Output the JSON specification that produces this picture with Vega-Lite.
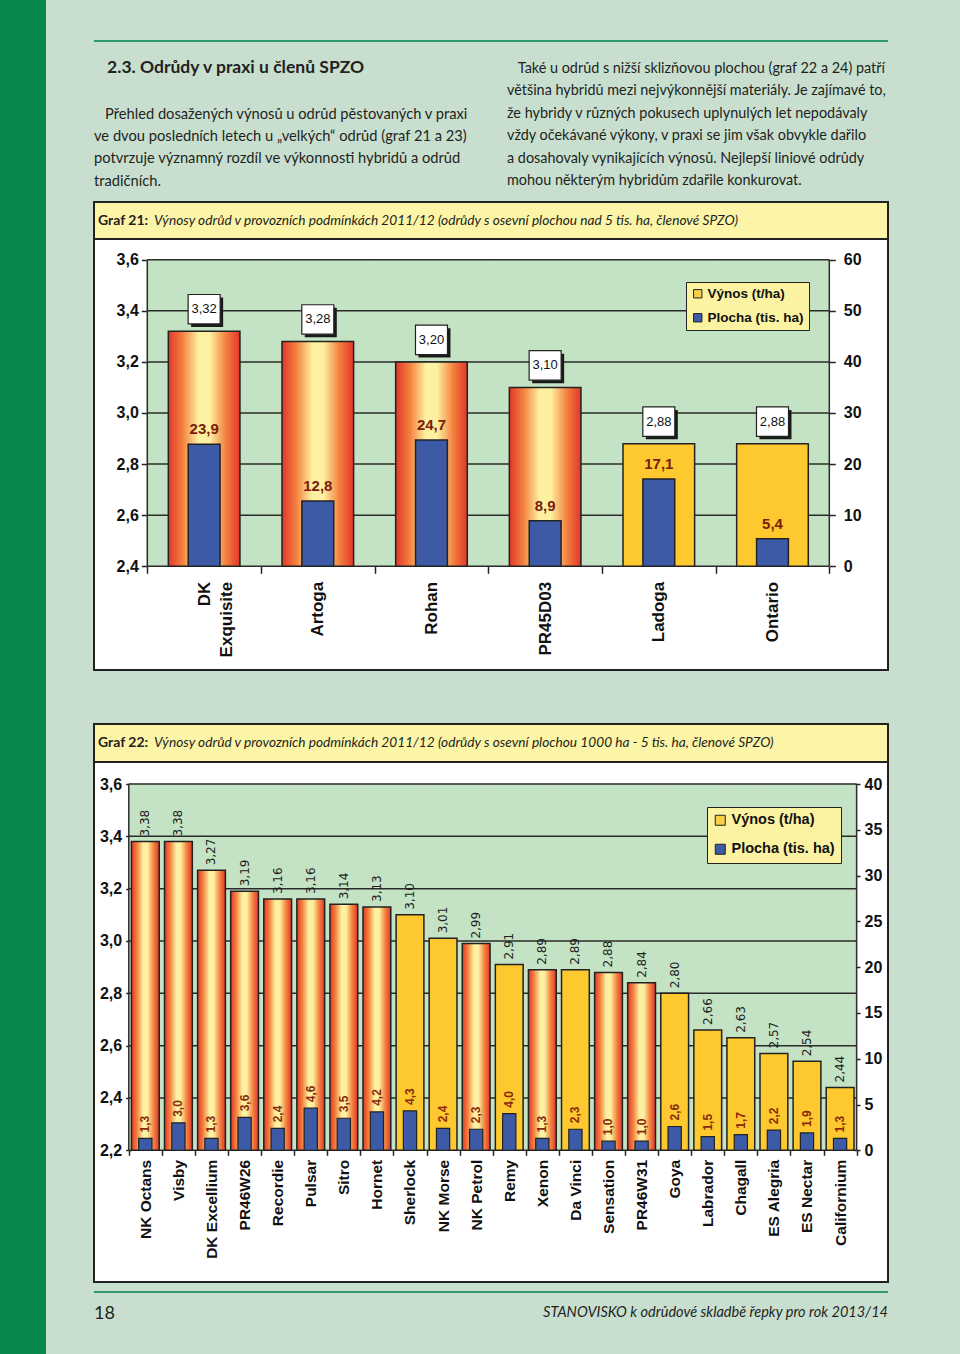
{
  "$schema": "https://vega.github.io/schema/vega-lite/v6.json",
  "background": "#c8dfd0",
  "padding": {"left": 0, "top": 0, "right": 72, "bottom": 0},
  "config": {
    "view": {"stroke": null},
    "font": "Liberation Sans",
    "locale": {"number": {"decimal": ",", "thousands": " ", "grouping": [3], "currency": ["", " Kč"]}},
    "axis": {"labelOverlap": false}
  },
  "datasets": {
    "g21": [
      {"odruda": "DK Exquisite", "vynos": 3.32, "plocha": 23.9, "typ": "hybrid"},
      {"odruda": "Artoga", "vynos": 3.28, "plocha": 12.8, "typ": "hybrid"},
      {"odruda": "Rohan", "vynos": 3.20, "plocha": 24.7, "typ": "hybrid"},
      {"odruda": "PR45D03", "vynos": 3.10, "plocha": 8.9, "typ": "hybrid"},
      {"odruda": "Ladoga", "vynos": 2.88, "plocha": 17.1, "typ": "liniová"},
      {"odruda": "Ontario", "vynos": 2.88, "plocha": 5.4, "typ": "liniová"}
    ],
    "g22": [
      {"odruda": "NK Octans", "vynos": 3.38, "plocha": 1.3, "typ": "hybrid"},
      {"odruda": "Visby", "vynos": 3.38, "plocha": 3.0, "typ": "hybrid"},
      {"odruda": "DK Excellium", "vynos": 3.27, "plocha": 1.3, "typ": "hybrid"},
      {"odruda": "PR46W26", "vynos": 3.19, "plocha": 3.6, "typ": "hybrid"},
      {"odruda": "Recordie", "vynos": 3.16, "plocha": 2.4, "typ": "hybrid"},
      {"odruda": "Pulsar", "vynos": 3.16, "plocha": 4.6, "typ": "hybrid"},
      {"odruda": "Sitro", "vynos": 3.14, "plocha": 3.5, "typ": "hybrid"},
      {"odruda": "Hornet", "vynos": 3.13, "plocha": 4.2, "typ": "hybrid"},
      {"odruda": "Sherlock", "vynos": 3.10, "plocha": 4.3, "typ": "liniová"},
      {"odruda": "NK Morse", "vynos": 3.01, "plocha": 2.4, "typ": "liniová"},
      {"odruda": "NK Petrol", "vynos": 2.99, "plocha": 2.3, "typ": "hybrid"},
      {"odruda": "Remy", "vynos": 2.91, "plocha": 4.0, "typ": "liniová"},
      {"odruda": "Xenon", "vynos": 2.89, "plocha": 1.3, "typ": "hybrid"},
      {"odruda": "Da Vinci", "vynos": 2.89, "plocha": 2.3, "typ": "liniová"},
      {"odruda": "Sensation", "vynos": 2.88, "plocha": 1.0, "typ": "hybrid"},
      {"odruda": "PR46W31", "vynos": 2.84, "plocha": 1.0, "typ": "hybrid"},
      {"odruda": "Goya", "vynos": 2.80, "plocha": 2.6, "typ": "liniová"},
      {"odruda": "Labrador", "vynos": 2.66, "plocha": 1.5, "typ": "liniová"},
      {"odruda": "Chagall", "vynos": 2.63, "plocha": 1.7, "typ": "liniová"},
      {"odruda": "ES Alegria", "vynos": 2.57, "plocha": 2.2, "typ": "liniová"},
      {"odruda": "ES Nectar", "vynos": 2.54, "plocha": 1.9, "typ": "liniová"},
      {"odruda": "Californium", "vynos": 2.44, "plocha": 1.3, "typ": "liniová"}
    ],
    "grid21": [{"v": 2.4}, {"v": 2.6}, {"v": 2.8}, {"v": 3.0}, {"v": 3.2}, {"v": 3.4}, {"v": 3.6}],
    "grid22": [{"v": 2.2}, {"v": 2.4}, {"v": 2.6}, {"v": 2.8}, {"v": 3.0}, {"v": 3.2}, {"v": 3.4}, {"v": 3.6}],
    "one": [{}]
  },
  "hconcat": [
    {
      "width": 46, "height": 1354,
      "data": {"name": "one"},
      "mark": "text",
      "encoding": {"text": {"value": ""}},
      "view": {"fill": "#07894c", "stroke": null}
    },
    {
      "spacing": 0,
      "bounds": "flush",
      "resolve": {"scale": {"color": "independent"}, "legend": {"color": "independent"}},
      "vconcat": [
        {"width": 794, "height": 40, "data": {"name": "one"}, "mark": "text", "encoding": {"text": {"value": ""}}},
        {
          "hconcat": [
            {
              "width": 413, "height": 2,
              "data": {"name": "one"}, "mark": "text", "encoding": {"text": {"value": ""}},
              "view": {"fill": "#2f9a68", "stroke": null},
              "title": {
                "text": "\u200b\u20032.3. Odrůdy v praxi u členů SPZO",
                "subtitle": [
                  "\u200b\u2003Přehled dosažených výnosů u odrůd pěstovaných v praxi",
                  "ve dvou posledních letech u „velkých“ odrůd (graf 21 a 23)",
                  "potvrzuje významný rozdíl ve výkonnosti hybridů a odrůd",
                  "tradičních."
                ],
                "orient": "bottom", "anchor": "start", "offset": 13, "baseline": "top",
                "font": "Lato", "fontSize": 17.5, "fontWeight": "bold", "color": "#231f20",
                "subtitleFont": "Lato", "subtitleFontSize": 14.7, "subtitleColor": "#231f20",
                "subtitleLineHeight": 22.4, "subtitlePadding": 30
              }
            },
            {
              "width": 381, "height": 2,
              "data": {"name": "one"}, "mark": "text", "encoding": {"text": {"value": ""}},
              "view": {"fill": "#2f9a68", "stroke": null},
              "title": {
                "text": [
                  "\u200b\u2003Také u odrůd s nižší sklizňovou plochou (graf 22 a 24) patří",
                  "většina hybridů mezi nejvýkonnější materiály. Je zajímavé to,",
                  "že hybridy v různých pokusech uplynulých let nepodávaly",
                  "vždy očekávané výkony, v praxi se jim však obvykle dařilo",
                  "a dosahovaly vynikajících výnosů. Nejlepší liniové odrůdy",
                  "mohou některým hybridům zdařile konkurovat."
                ],
                "orient": "bottom", "anchor": "start", "offset": 16, "baseline": "top",
                "font": "Lato", "fontSize": 14.4, "fontWeight": "normal", "lineHeight": 22.4, "color": "#231f20"
              }
            }
          ],
          "spacing": 0,
          "bounds": "flush"
        },
        {"width": 794, "height": 162, "data": {"name": "one"}, "mark": "text", "encoding": {"text": {"value": ""}}},
        {
          "width": 794, "height": 37,
          "view": {"fill": "#fcf5a8", "stroke": "#222222", "strokeWidth": 2},
          "data": {"values": [{"cislo": "Graf 21:", "popis": "Výnosy odrůd v provozních podmínkách 2011/12 (odrůdy s osevní plochou nad 5 tis. ha, členové SPZO)"}]},
          "layer": [
            {
              "mark": {"type": "text", "align": "left", "baseline": "middle", "dx": 4, "font": "Lato", "fontSize": 14, "fontWeight": "bold", "color": "#231f20"},
              "encoding": {"x": {"datum": 0, "type": "quantitative", "scale": {"domain": [0, 1]}, "axis": null}, "text": {"field": "cislo"}}
            },
            {
              "mark": {"type": "text", "align": "left", "baseline": "middle", "dx": 60, "font": "Lato", "fontSize": 13.7, "fontStyle": "italic", "color": "#231f20"},
              "encoding": {"x": {"datum": 0, "type": "quantitative", "scale": {"domain": [0, 1]}, "axis": null}, "text": {"field": "popis"}}
            }
          ]
        },
        {
          "width": 794, "height": 431,
          "view": {"fill": "white", "stroke": "#222222", "strokeWidth": 2},
          "data": {"name": "g21"},
          "resolve": {"scale": {"y": "independent"}},
          "layer": [
            {
              "mark": {"type": "bar", "color": "#c4e2c4", "width": {"band": 1}, "stroke": "#c4e2c4", "strokeWidth": 0.6},
              "encoding": {
                "x": {
                  "field": "odruda", "type": "nominal", "sort": null,
                  "scale": {"domain": ["DK Exquisite", "Artoga", "Rohan", "PR45D03", "Ladoga", "Ontario"], "paddingInner": 0, "paddingOuter": 0.4926, "align": 0.476},
                  "axis": {
                    "orient": "bottom", "offset": -103.7, "title": null, "domain": false, "grid": false,
                    "tickBand": "extent", "tickSize": 7, "tickWidth": 1.5, "tickColor": "#222222",
                    "labelAngle": 270, "labelFont": "Liberation Sans", "labelFontWeight": "bold", "labelFontSize": 17,
                    "labelColor": "#111111", "labelPadding": 8, "labelLineHeight": 22,
                    "labelExpr": "datum.value == 'DK Exquisite' ? ['DK', 'Exquisite'] : datum.label"
                  }
                },
                "y": {"datum": 3.6, "type": "quantitative", "scale": {"domain": [1.9941, 3.681], "nice": false, "zero": false}, "axis": null},
                "y2": {"datum": 2.4}
              }
            },
            {
              "data": {"name": "grid21"},
              "mark": {"type": "rule", "color": "#2b2b2b", "strokeWidth": 1.5},
              "encoding": {
                "x": {"datum": "DK Exquisite", "type": "nominal", "bandPosition": 0},
                "x2": {"datum": "Ontario", "bandPosition": 1},
                "y": {
                  "field": "v", "type": "quantitative",
                  "scale": {"domain": [1.9941, 3.681], "nice": false, "zero": false},
                  "axis": {
                    "orient": "left", "offset": -53.3, "title": null, "domain": false, "grid": false,
                    "values": [2.4, 2.6, 2.8, 3.0, 3.2, 3.4, 3.6], "format": ".1f",
                    "tickSize": 6, "tickWidth": 1.5, "tickColor": "#222222",
                    "labelFont": "Liberation Sans", "labelFontWeight": "bold", "labelFontSize": 16, "labelColor": "#111111", "labelPadding": 3
                  }
                }
              }
            },
            {
              "data": {"name": "one"},
              "mark": {"type": "rule", "color": "#2b2b2b", "strokeWidth": 1.5},
              "encoding": {
                "x": {"datum": "DK Exquisite", "type": "nominal", "bandPosition": 0},
                "y": {"datum": 2.4, "type": "quantitative", "scale": {"domain": [1.9941, 3.681], "nice": false, "zero": false}, "axis": null},
                "y2": {"datum": 3.6}
              }
            },
            {
              "data": {"name": "one"},
              "mark": {"type": "rule", "color": "#2b2b2b", "strokeWidth": 1.5},
              "encoding": {
                "x": {"datum": "Ontario", "type": "nominal", "bandPosition": 1},
                "y": {"datum": 2.4, "type": "quantitative", "scale": {"domain": [1.9941, 3.681], "nice": false, "zero": false}, "axis": null},
                "y2": {"datum": 3.6}
              }
            },
            {
              "transform": [{"filter": "datum.typ == 'hybrid'"}],
              "mark": {
                "type": "bar", "width": {"band": 0.63}, "stroke": "#222222", "strokeWidth": 1.5,
                "color": {"gradient": "linear", "x1": 0, "y1": 0, "x2": 1, "y2": 0, "stops": [
                  {"offset": 0, "color": "#e2362a"}, {"offset": 0.2, "color": "#f4823f"}, {"offset": 0.42, "color": "#fdf0a0"},
                  {"offset": 0.58, "color": "#fdf0a0"}, {"offset": 0.8, "color": "#f4823f"}, {"offset": 1, "color": "#e2362a"}]}
              },
              "encoding": {
                "x": {"field": "odruda", "type": "nominal", "sort": null},
                "y": {"field": "vynos", "type": "quantitative", "scale": {"domain": [1.9941, 3.681], "nice": false, "zero": false}, "axis": null},
                "y2": {"datum": 2.4}
              }
            },
            {
              "transform": [{"filter": "datum.typ != 'hybrid'"}],
              "mark": {"type": "bar", "width": {"band": 0.63}, "stroke": "#222222", "strokeWidth": 1.5, "color": "#fec92e"},
              "encoding": {
                "x": {"field": "odruda", "type": "nominal", "sort": null},
                "y": {"field": "vynos", "type": "quantitative", "scale": {"domain": [1.9941, 3.681], "nice": false, "zero": false}, "axis": null},
                "y2": {"datum": 2.4}
              }
            },
            {
              "mark": {"type": "bar", "width": {"band": 0.28}, "stroke": "#222222", "strokeWidth": 1.5},
              "encoding": {
                "x": {"field": "odruda", "type": "nominal", "sort": null},
                "y": {
                  "field": "plocha", "type": "quantitative",
                  "scale": {"domain": [-20.295, 64.05], "nice": false, "zero": false},
                  "axis": {
                    "orient": "right", "offset": -58.7, "title": null, "domain": false, "grid": false,
                    "values": [0, 10, 20, 30, 40, 50, 60], "format": "d",
                    "tickSize": 6, "tickWidth": 1.5, "tickColor": "#222222",
                    "labelFont": "Liberation Sans", "labelFontWeight": "bold", "labelFontSize": 16, "labelColor": "#111111", "labelPadding": 8
                  }
                },
                "y2": {"datum": 0},
                "color": {
                  "datum": "Plocha (tis. ha)", "type": "nominal",
                  "scale": {"domain": ["Výnos (t/ha)", "Plocha (tis. ha)"], "range": ["#f7d046", "#3c5aa6"]},
                  "legend": {
                    "orient": "none", "legendX": 592, "legendY": 43, "title": null,
                    "fillColor": "#fbf3a1", "strokeColor": "#222222", "padding": 5, "rowPadding": 9,
                    "symbolType": "square", "symbolSize": 70, "symbolStrokeColor": "#222222", "symbolStrokeWidth": 1,
                    "labelFont": "Liberation Sans", "labelFontSize": 13.5, "labelFontWeight": "bold", "labelColor": "#111111", "labelOffset": 3
                  }
                }
              }
            },
            {
              "mark": {"type": "point", "shape": "M-1,-0.92L1,-0.92L1,0.92L-1,0.92Z", "size": 1024, "filled": true, "color": "#1a1a1a", "opacity": 1, "xOffset": 3, "yOffset": -19},
              "encoding": {
                "x": {"field": "odruda", "type": "nominal", "sort": null},
                "y": {"field": "vynos", "type": "quantitative", "scale": {"domain": [1.9941, 3.681], "nice": false, "zero": false}, "axis": null}
              }
            },
            {
              "mark": {"type": "point", "shape": "M-1,-0.92L1,-0.92L1,0.92L-1,0.92Z", "size": 1024, "filled": true, "fill": "white", "stroke": "#222222", "strokeWidth": 1.2, "opacity": 1, "yOffset": -22},
              "encoding": {
                "x": {"field": "odruda", "type": "nominal", "sort": null},
                "y": {"field": "vynos", "type": "quantitative", "scale": {"domain": [1.9941, 3.681], "nice": false, "zero": false}, "axis": null}
              }
            },
            {
              "mark": {"type": "text", "fontSize": 13, "color": "#111111", "baseline": "middle", "dy": -22},
              "encoding": {
                "x": {"field": "odruda", "type": "nominal", "sort": null},
                "y": {"field": "vynos", "type": "quantitative", "scale": {"domain": [1.9941, 3.681], "nice": false, "zero": false}, "axis": null},
                "text": {"field": "vynos", "type": "quantitative", "format": ".2f"}
              }
            },
            {
              "mark": {"type": "text", "fontSize": 15, "fontWeight": "bold", "color": "#7b1c0c", "baseline": "middle", "dy": -15},
              "encoding": {
                "x": {"field": "odruda", "type": "nominal", "sort": null},
                "y": {"field": "plocha", "type": "quantitative", "scale": {"domain": [-20.295, 64.05], "nice": false, "zero": false}, "axis": null},
                "text": {"field": "plocha", "type": "quantitative", "format": ".1f"}
              }
            }
          ]
        },
        {"width": 794, "height": 54, "data": {"name": "one"}, "mark": "text", "encoding": {"text": {"value": ""}}},
        {
          "width": 794, "height": 38,
          "view": {"fill": "#fcf5a8", "stroke": "#222222", "strokeWidth": 2},
          "data": {"values": [{"cislo": "Graf 22:", "popis": "Výnosy odrůd v provozních podmínkách 2011/12 (odrůdy s osevní plochou 1000 ha - 5 tis. ha, členové SPZO)"}]},
          "layer": [
            {
              "mark": {"type": "text", "align": "left", "baseline": "middle", "dx": 4, "font": "Lato", "fontSize": 14, "fontWeight": "bold", "color": "#231f20"},
              "encoding": {"x": {"datum": 0, "type": "quantitative", "scale": {"domain": [0, 1]}, "axis": null}, "text": {"field": "cislo"}}
            },
            {
              "mark": {"type": "text", "align": "left", "baseline": "middle", "dx": 60, "font": "Lato", "fontSize": 13.7, "fontStyle": "italic", "color": "#231f20"},
              "encoding": {"x": {"datum": 0, "type": "quantitative", "scale": {"domain": [0, 1]}, "axis": null}, "text": {"field": "popis"}}
            }
          ]
        },
        {
          "width": 794, "height": 520,
          "view": {"fill": "white", "stroke": "#222222", "strokeWidth": 2},
          "data": {"name": "g22"},
          "resolve": {"scale": {"y": "independent"}},
          "layer": [
            {
              "mark": {"type": "bar", "color": "#c4e2c4", "width": {"band": 1}, "stroke": "#c4e2c4", "strokeWidth": 0.6},
              "encoding": {
                "x": {
                  "field": "odruda", "type": "nominal", "sort": null,
                  "scale": {"domain": ["NK Octans", "Visby", "DK Excellium", "PR46W26", "Recordie", "Pulsar", "Sitro", "Hornet", "Sherlock", "NK Morse", "NK Petrol", "Remy", "Xenon", "Da Vinci", "Sensation", "PR46W31", "Goya", "Labrador", "Chagall", "ES Alegria", "ES Nectar", "Californium"], "paddingInner": 0, "paddingOuter": 1.0925, "align": 0.5258},
                  "axis": {
                    "orient": "bottom", "offset": -131.7, "title": null, "domain": false, "grid": false,
                    "tickBand": "extent", "tickSize": 5, "tickWidth": 1.5, "tickColor": "#222222",
                    "labelAngle": 270, "labelFont": "Liberation Sans", "labelFontWeight": "bold", "labelFontSize": 15.5,
                    "labelColor": "#111111", "labelPadding": 4
                  }
                },
                "y": {"datum": 3.6, "type": "quantitative", "scale": {"domain": [1.6966, 3.6841], "nice": false, "zero": false}, "axis": null},
                "y2": {"datum": 2.2}
              }
            },
            {
              "data": {"name": "grid22"},
              "mark": {"type": "rule", "color": "#2b2b2b", "strokeWidth": 1.5},
              "encoding": {
                "x": {"datum": "NK Octans", "type": "nominal", "bandPosition": 0},
                "x2": {"datum": "Californium", "bandPosition": 1},
                "y": {
                  "field": "v", "type": "quantitative",
                  "scale": {"domain": [1.6966, 3.6841], "nice": false, "zero": false},
                  "axis": {
                    "orient": "left", "offset": -37.7, "title": null, "domain": false, "grid": false,
                    "values": [2.2, 2.4, 2.6, 2.8, 3.0, 3.2, 3.4, 3.6], "format": ".1f",
                    "tickSize": 6, "tickWidth": 1.5, "tickColor": "#222222",
                    "labelFont": "Liberation Sans", "labelFontWeight": "bold", "labelFontSize": 16, "labelColor": "#111111", "labelPadding": 4
                  }
                }
              }
            },
            {
              "data": {"name": "one"},
              "mark": {"type": "rule", "color": "#2b2b2b", "strokeWidth": 1.5},
              "encoding": {
                "x": {"datum": "NK Octans", "type": "nominal", "bandPosition": 0},
                "y": {"datum": 2.2, "type": "quantitative", "scale": {"domain": [1.6966, 3.6841], "nice": false, "zero": false}, "axis": null},
                "y2": {"datum": 3.6}
              }
            },
            {
              "data": {"name": "one"},
              "mark": {"type": "rule", "color": "#2b2b2b", "strokeWidth": 1.5},
              "encoding": {
                "x": {"datum": "Californium", "type": "nominal", "bandPosition": 1},
                "y": {"datum": 2.2, "type": "quantitative", "scale": {"domain": [1.6966, 3.6841], "nice": false, "zero": false}, "axis": null},
                "y2": {"datum": 3.6}
              }
            },
            {
              "transform": [{"filter": "datum.typ == 'hybrid'"}],
              "mark": {
                "type": "bar", "width": {"band": 0.84}, "stroke": "#222222", "strokeWidth": 1.5,
                "color": {"gradient": "linear", "x1": 0, "y1": 0, "x2": 1, "y2": 0, "stops": [
                  {"offset": 0, "color": "#e2362a"}, {"offset": 0.2, "color": "#f4823f"}, {"offset": 0.42, "color": "#fdf0a0"},
                  {"offset": 0.58, "color": "#fdf0a0"}, {"offset": 0.8, "color": "#f4823f"}, {"offset": 1, "color": "#e2362a"}]}
              },
              "encoding": {
                "x": {"field": "odruda", "type": "nominal", "sort": null},
                "y": {"field": "vynos", "type": "quantitative", "scale": {"domain": [1.6966, 3.6841], "nice": false, "zero": false}, "axis": null},
                "y2": {"datum": 2.2}
              }
            },
            {
              "transform": [{"filter": "datum.typ != 'hybrid'"}],
              "mark": {"type": "bar", "width": {"band": 0.84}, "stroke": "#222222", "strokeWidth": 1.5, "color": "#fec92e"},
              "encoding": {
                "x": {"field": "odruda", "type": "nominal", "sort": null},
                "y": {"field": "vynos", "type": "quantitative", "scale": {"domain": [1.6966, 3.6841], "nice": false, "zero": false}, "axis": null},
                "y2": {"datum": 2.2}
              }
            },
            {
              "mark": {"type": "bar", "width": {"band": 0.4}, "stroke": "#222222", "strokeWidth": 1.2},
              "encoding": {
                "x": {"field": "odruda", "type": "nominal", "sort": null},
                "y": {
                  "field": "plocha", "type": "quantitative",
                  "scale": {"domain": [-14.383, 42.403], "nice": false, "zero": false},
                  "axis": {
                    "orient": "right", "offset": -34, "title": null, "domain": false, "grid": false,
                    "values": [0, 5, 10, 15, 20, 25, 30, 35, 40], "format": "d",
                    "tickSize": 6, "tickWidth": 1.5, "tickColor": "#222222",
                    "labelFont": "Liberation Sans", "labelFontWeight": "bold", "labelFontSize": 16, "labelColor": "#111111", "labelPadding": 4
                  }
                },
                "y2": {"datum": 0},
                "color": {
                  "datum": "Plocha (tis. ha)", "type": "nominal",
                  "scale": {"domain": ["Výnos (t/ha)", "Plocha (tis. ha)"], "range": ["#f7d046", "#3c5aa6"]},
                  "legend": {
                    "orient": "none", "legendX": 613, "legendY": 45, "title": null,
                    "fillColor": "#fbf3a1", "strokeColor": "#222222", "padding": 6, "rowPadding": 13,
                    "symbolType": "square", "symbolSize": 100, "symbolStrokeColor": "#222222", "symbolStrokeWidth": 1,
                    "labelFont": "Liberation Sans", "labelFontSize": 14.5, "labelFontWeight": "bold", "labelColor": "#111111", "labelOffset": 4
                  }
                }
              }
            },
            {
              "mark": {"type": "text", "fontSize": 12, "font": "DejaVu Sans", "color": "#1e1e1e", "angle": 270, "align": "left", "baseline": "middle", "dx": 5},
              "encoding": {
                "x": {"field": "odruda", "type": "nominal", "sort": null},
                "y": {"field": "vynos", "type": "quantitative", "scale": {"domain": [1.6966, 3.6841], "nice": false, "zero": false}, "axis": null},
                "text": {"field": "vynos", "type": "quantitative", "format": ".2f"}
              }
            },
            {
              "mark": {"type": "text", "fontSize": 12, "fontWeight": "bold", "color": "#8b2a0a", "angle": 270, "align": "left", "baseline": "middle", "dx": 6},
              "encoding": {
                "x": {"field": "odruda", "type": "nominal", "sort": null},
                "y": {"field": "plocha", "type": "quantitative", "scale": {"domain": [-14.383, 42.403], "nice": false, "zero": false}, "axis": null},
                "text": {"field": "plocha", "type": "quantitative", "format": ".1f"}
              }
            }
          ]
        },
        {"width": 794, "height": 9, "data": {"name": "one"}, "mark": "text", "encoding": {"text": {"value": ""}}},
        {
          "hconcat": [
            {
              "width": 397, "height": 2,
              "data": {"name": "one"}, "mark": "text", "encoding": {"text": {"value": ""}},
              "view": {"fill": "#2f9a68", "stroke": null},
              "title": {"text": "18", "orient": "bottom", "anchor": "start", "offset": 8, "baseline": "top", "font": "Lato", "fontSize": 18, "fontWeight": "normal", "color": "#231f20"}
            },
            {
              "width": 397, "height": 2,
              "data": {"name": "one"}, "mark": "text", "encoding": {"text": {"value": ""}},
              "view": {"fill": "#2f9a68", "stroke": null},
              "title": {"text": "STANOVISKO k odrůdové skladbě řepky pro rok 2013/14", "orient": "bottom", "anchor": "end", "offset": 9, "baseline": "top", "font": "Lato", "fontSize": 14.5, "fontStyle": "italic", "fontWeight": "normal", "color": "#231f20"}
            }
          ],
          "spacing": 0,
          "bounds": "flush"
        },
        {"width": 794, "height": 59, "data": {"name": "one"}, "mark": "text", "encoding": {"text": {"value": ""}}}
      ]
    }
  ],
  "spacing": 48,
  "bounds": "flush",
  "resolve": {"scale": {"color": "independent"}, "legend": {"color": "independent"}}
}
